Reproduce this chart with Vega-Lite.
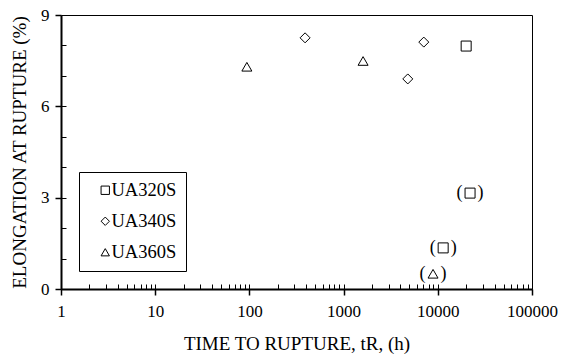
{
  "$schema": "https://vega.github.io/schema/vega-lite/v6.json",
  "width": 471,
  "height": 274,
  "autosize": {"type": "none"},
  "padding": {"left": 61, "top": 15, "right": 31, "bottom": 65},
  "config": {
    "view": {"stroke": "black", "strokeWidth": 1},
    "font": "Liberation Serif, Times New Roman, serif",
    "axis": {
      "grid": false,
      "domainColor": "black",
      "tickColor": "black",
      "labelColor": "black",
      "titleColor": "black",
      "labelFont": "Liberation Serif, Times New Roman, serif",
      "titleFont": "Liberation Serif, Times New Roman, serif",
      "titleFontWeight": "normal"
    },
    "legend": {
      "labelFont": "Liberation Serif, Times New Roman, serif"
    }
  },
  "data": {
    "values": [
      {"alloy": "UA320S", "time": 20000, "elong": 7.98, "paren": false},
      {"alloy": "UA320S", "time": 22000, "elong": 3.15, "paren": true},
      {"alloy": "UA320S", "time": 11400, "elong": 1.35, "paren": true},
      {"alloy": "UA340S", "time": 390, "elong": 8.25, "paren": false},
      {"alloy": "UA340S", "time": 7100, "elong": 8.11, "paren": false},
      {"alloy": "UA340S", "time": 4800, "elong": 6.9, "paren": false},
      {"alloy": "UA360S", "time": 94, "elong": 7.3, "paren": false},
      {"alloy": "UA360S", "time": 1610, "elong": 7.49, "paren": false},
      {"alloy": "UA360S", "time": 8900, "elong": 0.5, "paren": true}
    ]
  },
  "layer": [
    {
      "mark": {"type": "point", "filled": false, "color": "black", "strokeWidth": 1, "size": 100, "opacity": 1},
      "encoding": {
        "x": {
          "field": "time", "type": "quantitative",
          "scale": {"type": "log", "domain": [1, 100000], "nice": false},
          "axis": {
            "orient": "bottom",
            "values": [1, 10, 100, 1000, 10000, 100000],
            "format": "d",
            "tickSize": 6, "tickWidth": 1.5,
            "domainWidth": 2,
            "labelFontSize": 17, "labelPadding": 8, "labelFlush": false,
            "title": "TIME TO RUPTURE, tR,  (h)",
            "titleFontSize": 19, "titlePadding": 15
          }
        },
        "y": {
          "field": "elong", "type": "quantitative",
          "scale": {"domain": [0, 9], "nice": false},
          "axis": {
            "orient": "left",
            "values": [0, 3, 6, 9],
            "tickSize": 6, "tickWidth": 1.5,
            "domainWidth": 2,
            "labelFontSize": 17, "labelPadding": 6,
            "title": "ELONGATION AT RUPTURE  (%)",
            "titleFontSize": 19, "titlePadding": 11
          }
        },
        "shape": {
          "field": "alloy", "type": "nominal",
          "scale": {"domain": ["UA320S", "UA340S", "UA360S"], "range": ["square", "diamond", "triangle-up"]},
          "legend": {
            "title": null,
            "orient": "none",
            "legendX": 18,
            "legendY": 157,
            "strokeColor": "black",
            "fillColor": "white",
            "padding": 9,
            "symbolOffset": 8,
            "symbolSize": 70,
            "symbolStrokeColor": "black",
            "symbolFillColor": "transparent",
            "symbolStrokeWidth": 1,
            "labelFontSize": 18.5,
            "labelColor": "black",
            "labelOffset": -3,
            "rowPadding": 12
          }
        }
      }
    },
    {
      "transform": [{"filter": "datum.paren"}],
      "mark": {"type": "text", "text": "(", "dx": -10.5, "fontSize": 18, "color": "black"},
      "encoding": {
        "x": {
          "field": "time", "type": "quantitative",
          "axis": {
            "orient": "bottom",
            "values": [2,3,4,5,6,7,8,9,10,20,30,40,50,60,70,80,90,100,200,300,400,500,600,700,800,900,1000,2000,3000,4000,5000,6000,7000,8000,9000,10000,20000,30000,40000,50000,60000,70000,80000,90000],
            "labels": false, "domain": false, "title": null,
            "tickSize": -5, "tickWidth": 1
          }
        },
        "y": {
          "field": "elong", "type": "quantitative",
          "axis": {
            "orient": "left",
            "values": [1, 2, 3, 4, 5, 6, 7, 8],
            "labels": false, "domain": false, "title": null,
            "tickSize": -5, "tickWidth": 1
          }
        }
      }
    },
    {
      "transform": [{"filter": "datum.paren"}],
      "mark": {"type": "text", "text": ")", "dx": 10.5, "fontSize": 18, "color": "black"},
      "encoding": {
        "x": {"field": "time", "type": "quantitative", "axis": null},
        "y": {"field": "elong", "type": "quantitative", "axis": null}
      }
    }
  ],
  "resolve": {"axis": {"x": "independent", "y": "independent"}}
}
